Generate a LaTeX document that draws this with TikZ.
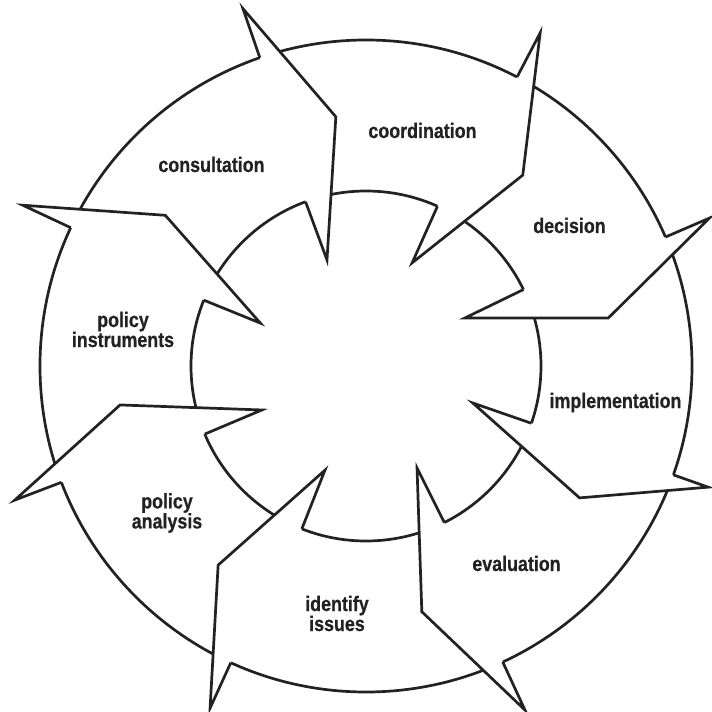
\documentclass[tikz,border=0pt]{standalone}
\usepackage{fontspec}
\newfontfamily\labelfont[FakeStretch=0.85, FakeBold=0.6]{Liberation Sans}
\usepackage{xcolor}
\definecolor{ink}{HTML}{222222}
\tikzstyle{ring} = [draw=ink, line width=2.7pt]
\tikzstyle{cover} = [fill=white]
\tikzstyle{head} = [draw=ink, line width=2.7pt, line join=miter]
\tikzstyle{lbl} = [font=\labelfont\bfseries\fontsize{21}{20}\selectfont, text=ink, align=center, inner sep=0pt]

\begin{document}
\begin{tikzpicture}[x=1pt, y=1pt]
			\useasboundingbox (-366,-346) rectangle (346,366);
			% consultation
			\coordinate (BO1) at (109.0:378);
			\coordinate (TP1) at (96.9:251);
			\coordinate (BI1) at (110.2:113);
			\coordinate (FO1) at (109.0:326);
			\coordinate (FI1) at (110.2:175);
			% coordination
			\coordinate (BO2) at (62.4:376);
			\coordinate (TP2) at (50.6:247);
			\coordinate (BI2) at (65.9:113);
			\coordinate (FO2) at (62.4:326);
			\coordinate (FI2) at (65.9:175);
			% decision
			\coordinate (BO3) at (23.3:374);
			\coordinate (TP3) at (11.2:247);
			\coordinate (BI3) at (25.9:110);
			\coordinate (FO3) at (23.3:326);
			\coordinate (FI3) at (25.9:175);
			% implementation
			\coordinate (BO4) at (-19.5:363);
			\coordinate (TP4) at (-31.7:251);
			\coordinate (BI4) at (-19.1:113);
			\coordinate (FO4) at (-19.5:326);
			\coordinate (FI4) at (-19.1:175);
			% evaluation
			\coordinate (BO5) at (-65.2:379);
			\coordinate (TP5) at (-77.2:252);
			\coordinate (BI5) at (-63.4:114);
			\coordinate (FO5) at (-65.2:326);
			\coordinate (FI5) at (-63.4:175);
			% identify issues
			\coordinate (BO6) at (-114.5:376);
			\coordinate (TP6) at (-126.6:248);
			\coordinate (BI6) at (-111.5:112);
			\coordinate (FO6) at (-114.5:326);
			\coordinate (FI6) at (-111.5:175);
			% policy analysis
			\coordinate (BO7) at (-159.1:376);
			\coordinate (TP7) at (-171.0:249);
			\coordinate (BI7) at (-157.1:113);
			\coordinate (FO7) at (-159.1:326);
			\coordinate (FI7) at (-157.1:175);
			% policy instruments
			\coordinate (BO8) at (154.9:379);
			\coordinate (TP8) at (143.1:251);
			\coordinate (BI8) at (157.9:114);
			\coordinate (FO8) at (154.9:326);
			\coordinate (FI8) at (157.9:175);
			% rings
			\draw[ring] (0,0) circle (326pt);
			\draw[ring] (0,0) circle (175pt);
			% heads hide the rings below them
			\fill[cover] (FO1) -- (BO1) -- (TP1) -- (BI1) -- (FI1) -- cycle;
			\fill[cover] (FO2) -- (BO2) -- (TP2) -- (BI2) -- (FI2) -- cycle;
			\fill[cover] (FO3) -- (BO3) -- (TP3) -- (BI3) -- (FI3) -- cycle;
			\fill[cover] (FO4) -- (BO4) -- (TP4) -- (BI4) -- (FI4) -- cycle;
			\fill[cover] (FO5) -- (BO5) -- (TP5) -- (BI5) -- (FI5) -- cycle;
			\fill[cover] (FO6) -- (BO6) -- (TP6) -- (BI6) -- (FI6) -- cycle;
			\fill[cover] (FO7) -- (BO7) -- (TP7) -- (BI7) -- (FI7) -- cycle;
			\fill[cover] (FO8) -- (BO8) -- (TP8) -- (BI8) -- (FI8) -- cycle;
			\draw[head] (FO1) -- (BO1) -- (TP1) -- (BI1) -- (FI1);
			\draw[head] (FO2) -- (BO2) -- (TP2) -- (BI2) -- (FI2);
			\draw[head] (FO3) -- (BO3) -- (TP3) -- (BI3) -- (FI3);
			\draw[head] (FO4) -- (BO4) -- (TP4) -- (BI4) -- (FI4);
			\draw[head] (FO5) -- (BO5) -- (TP5) -- (BI5) -- (FI5);
			\draw[head] (FO6) -- (BO6) -- (TP6) -- (BI6) -- (FI6);
			\draw[head] (FO7) -- (BO7) -- (TP7) -- (BI7) -- (FI7);
			\draw[head] (FO8) -- (BO8) -- (TP8) -- (BI8) -- (FI8);
			% labels
			\node[lbl, anchor=base] (consult) at (-154.5,194) {consultation};
			\node[lbl, anchor=base] (coord) at (56.5,228) {coordination};
			\node[lbl, anchor=base] (decide) at (203.5,133) {decision};
			\node[lbl, anchor=base] (implement) at (249.5,-42) {implementation};
			\node[lbl, anchor=base] (evaluate) at (150.5,-205) {evaluation};
			\node[lbl] (issues) at (-29,-247.5) {identify\\issues};
			\node[lbl] (analysis) at (-199,-147) {policy\\analysis};
			\node[lbl] (instruments) at (-243,36.5) {policy\\instruments};
\end{tikzpicture}
\end{document}
